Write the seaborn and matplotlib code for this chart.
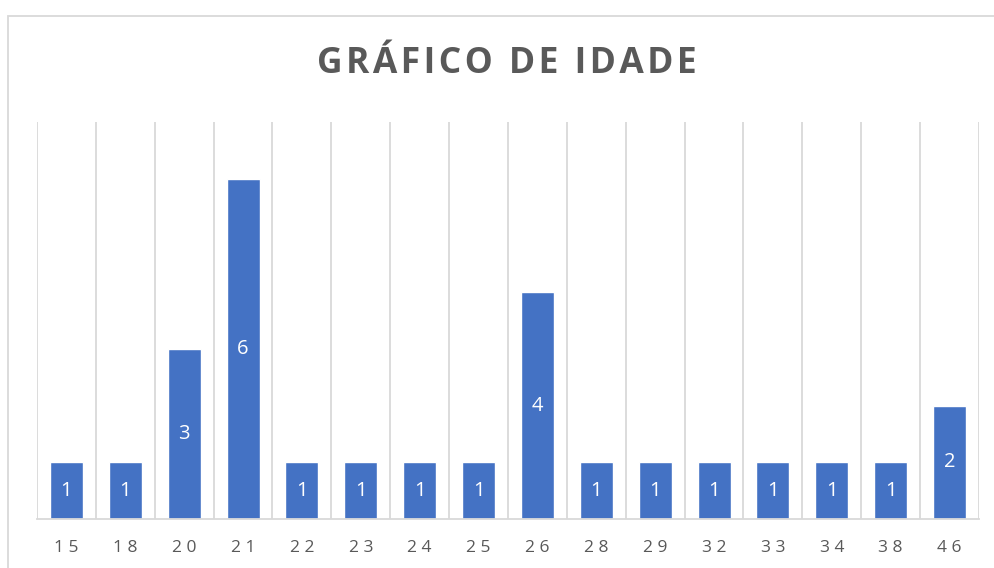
import matplotlib
matplotlib.use("Agg")
import matplotlib.pyplot as plt
import seaborn as sns
import pandas as pd
import numpy as np
from matplotlib.patches import Rectangle

ages = ["15", "18", "20", "21", "22", "23", "24", "25", "26", "28", "29", "32", "33", "34", "38", "46"]
counts = [1, 1, 3, 6, 1, 1, 1, 1, 4, 1, 1, 1, 1, 1, 1, 2]
title = "GRÁFICO DE IDADE"

sns.set_theme(style="white")
plt.rcParams['font.family'] = ['Open Sans', 'DejaVu Sans']

W, H = 995, 568
fig = plt.figure(figsize=(W / 100, H / 100), dpi=100)
ax = fig.add_axes([37 / W, 1 - 519 / H, (979 - 37) / W, (519 - 122) / H])

df = pd.DataFrame({"age": ages, "count": counts})
sns.barplot(data=df, x="age", y="count", color="#4472C4", saturation=1, width=0.56, ax=ax)

ax.set_xlim(-0.5, len(ages) - 0.5)
ax.set_ylim(0, 7)
ax.set_yticks([])
ax.set_xlabel("")
ax.set_ylabel("")

# vertical gridlines at category boundaries
ax.set_xticks(np.arange(-0.5, len(ages), 1.0), minor=True)
ax.grid(which="minor", axis="x", color="#d9d9d9", linewidth=1.3)
ax.grid(which="major", visible=False)
ax.tick_params(which="both", length=0)
for s in ["top", "left", "right"]:
    ax.spines[s].set_visible(False)
ax.spines["bottom"].set_color("#d9d9d9")
ax.spines["bottom"].set_linewidth(1.3)

ax.set_xticks(range(len(ages)))
ax.set_xticklabels([" ".join(a) for a in ages], fontsize=12.5, color="#595959")
ax.tick_params(axis="x", pad=15)

for i, c in enumerate(counts):
    ax.text(i, c / 2, str(c), ha="center", va="center", color="white", fontsize=14.5)

fig.text(507 / W, 1 - 64 / H, "\u200a".join(title), ha="center", va="center",
         fontsize=25.5, fontweight="bold", color="#595959")

fig.patches.append(Rectangle((8 / W, -0.1), 1.2, 1 - 16 / H + 0.1, transform=fig.transFigure,
                             fill=False, edgecolor="#d9d9d9", linewidth=1.3))

fig.savefig("out.png", dpi=100)
